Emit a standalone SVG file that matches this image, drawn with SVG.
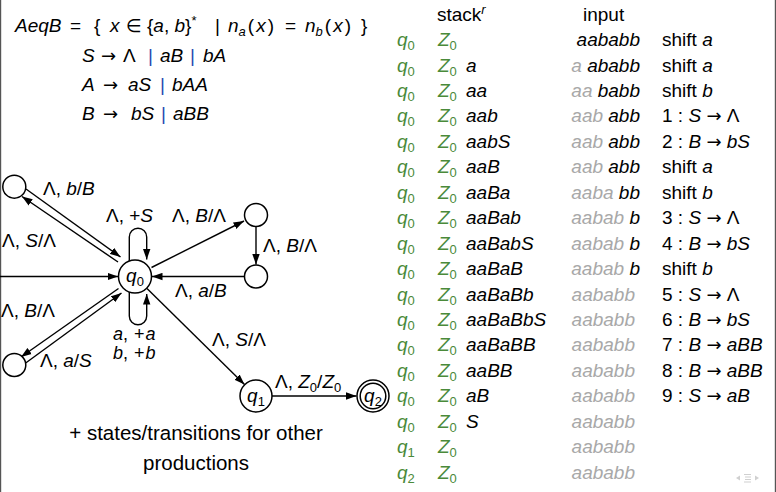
<svg xmlns="http://www.w3.org/2000/svg" width="776" height="492" viewBox="0 0 776 492">
<defs>
<style>
.t{font-family:"Liberation Sans",Arial,sans-serif;font-size:19px;fill:#000}
.i{font-style:italic}
.g{fill:#4a8a3a}
.gr{fill:#a8a8a8}
.bl{fill:#2a4bb0}
.ar{font-family:"DejaVu Sans",sans-serif;font-size:18px;font-style:normal}
.lp{font-size:18px}
.ft{font-size:20.5px}
.edge{stroke:#000;stroke-width:1.4;fill:none}
.node{stroke:#000;stroke-width:1.5;fill:#fff}
</style>
<marker id="ah" markerWidth="11" markerHeight="8" refX="10.5" refY="4" orient="auto" markerUnits="userSpaceOnUse">
<path d="M0,0.3 L10.5,4 L0,7.7 z" fill="#000"/>
</marker>
</defs>
<rect width="776" height="492" fill="#fff"/>
<line x1="0.6" y1="0" x2="0.6" y2="492" stroke="#555" stroke-width="1.2"/>
<line x1="775.4" y1="0" x2="775.4" y2="492" stroke="#555" stroke-width="1.2"/>

<g id="grammar">
<text class="t" y="32"><tspan x="15" class="i">AeqB</tspan><tspan x="70">=</tspan><tspan x="94">{</tspan><tspan x="110" class="i">x</tspan><tspan x="126" class="ar">∈</tspan><tspan x="147">{</tspan><tspan class="i">a</tspan>, <tspan class="i">b</tspan>}<tspan font-size="13" dy="-7">*</tspan><tspan x="215" dy="7">|</tspan><tspan x="228" class="i">n</tspan><tspan class="i" font-size="13" dy="4">a</tspan><tspan dy="-4" dx="2">(</tspan><tspan class="i" dx="2">x</tspan><tspan dx="2">)</tspan><tspan x="285">=</tspan><tspan x="305" class="i">n</tspan><tspan class="i" font-size="13" dy="4">b</tspan><tspan dy="-4" dx="2">(</tspan><tspan class="i" dx="2">x</tspan><tspan dx="2">)</tspan><tspan x="361">}</tspan></text>
<text class="t" y="61.5"><tspan x="82" class="i">S</tspan><tspan x="101" class="ar">→</tspan><tspan x="123">Λ</tspan><tspan x="148" class="bl">|</tspan><tspan x="160" class="i">aB</tspan><tspan x="190" class="bl">|</tspan><tspan x="203" class="i">bA</tspan></text>
<text class="t" y="90.5"><tspan x="82" class="i">A</tspan><tspan x="103" class="ar">→</tspan><tspan x="128" class="i">aS</tspan><tspan x="160" class="bl">|</tspan><tspan x="172" class="i">bAA</tspan></text>
<text class="t" y="119.5"><tspan x="82" class="i">B</tspan><tspan x="103" class="ar">→</tspan><tspan x="131" class="i">bS</tspan><tspan x="161" class="bl">|</tspan><tspan x="173" class="i">aBB</tspan></text>
</g>

<g id="connectors">
<path class="edge" d="M0,276.5 L118,276.5" marker-end="url(#ah)"/>
<path class="edge" d="M26,189 L120.5,257" marker-end="url(#ah)"/>
<path class="edge" d="M118,262 L22,196.5" marker-end="url(#ah)"/>
<path class="edge" d="M118.5,288.5 L21,357" marker-end="url(#ah)"/>
<path class="edge" d="M25,363.5 L121.5,293" marker-end="url(#ah)"/>
<path class="edge" d="M129.3,261 V237 A8.7,8.7 0 0 1 146.7,237 V259.5" marker-end="url(#ah)"/>
<path class="edge" d="M129.3,292 V316 A8.7,8.7 0 0 0 146.7,316 V294" marker-end="url(#ah)"/>
<path class="edge" d="M151.5,267.5 L244,221" marker-end="url(#ah)"/>
<path class="edge" d="M256,226.5 L256,264.5" marker-end="url(#ah)"/>
<path class="edge" d="M244.5,276.5 L152,276.5" marker-end="url(#ah)"/>
<path class="edge" d="M147,288.5 L244.5,384.5" marker-end="url(#ah)"/>
<path class="edge" d="M272,396 L356.5,396" marker-end="url(#ah)"/>
<text class="t" x="43" y="195">Λ, <tspan class="i">b</tspan>/<tspan class="i">B</tspan></text>
<text class="t" x="2" y="247">Λ, <tspan class="i">S</tspan>/Λ</text>
<text class="t" x="106" y="221.5">Λ, +<tspan class="i">S</tspan></text>
<text class="t" x="172" y="222">Λ, <tspan class="i">B</tspan>/Λ</text>
<text class="t" x="263" y="251.5">Λ, <tspan class="i">B</tspan>/Λ</text>
<text class="t" x="175" y="297">Λ, <tspan class="i">a</tspan>/<tspan class="i">B</tspan></text>
<text class="t" x="1" y="317">Λ, <tspan class="i">B</tspan>/Λ</text>
<text class="t" x="40" y="367">Λ, <tspan class="i">a</tspan>/<tspan class="i">S</tspan></text>
<text class="t lp" x="113" y="339.5"><tspan class="i">a</tspan>, <tspan dx="1">+</tspan><tspan class="i" dx="1">a</tspan></text>
<text class="t lp" x="113" y="358.5"><tspan class="i">b</tspan>, <tspan dx="1">+</tspan><tspan class="i" dx="1">b</tspan></text>
<text class="t" x="212" y="346">Λ, <tspan class="i">S</tspan>/Λ</text>
<text class="t" x="275" y="388">Λ, <tspan class="i">Z</tspan><tspan font-size="13" dy="4">0</tspan><tspan dy="-4">/</tspan><tspan class="i">Z</tspan><tspan font-size="13" dy="4">0</tspan></text>
</g>

<g id="q0"><circle class="node" cx="135" cy="276.5" r="16.5"/><text class="t" x="135" y="282" text-anchor="middle"><tspan class="i">q</tspan><tspan font-size="13" dy="4">0</tspan></text></g>
<g id="n_tl"><circle class="node" cx="14.3" cy="186.7" r="11.5"/></g>
<g id="n_bl"><circle class="node" cx="14.3" cy="365" r="11.5"/></g>
<g id="n_tr"><circle class="node" cx="256" cy="215" r="11.5"/></g>
<g id="n_rm"><circle class="node" cx="256" cy="276.5" r="11.5"/></g>
<g id="q1"><circle class="node" cx="256" cy="396" r="16"/><text class="t" x="256" y="401.5" text-anchor="middle"><tspan class="i">q</tspan><tspan font-size="13" dy="4">1</tspan></text></g>
<g id="q2"><circle class="node" cx="373" cy="396" r="16"/><circle class="node" cx="373" cy="396" r="12.8"/><text class="t" x="373" y="401.5" text-anchor="middle"><tspan class="i">q</tspan><tspan font-size="13" dy="4">2</tspan></text></g>

<g id="footer">
<text class="t ft" x="196" y="440" text-anchor="middle">+ states/transitions for other</text>
<text class="t ft" x="196" y="470" text-anchor="middle">productions</text>
</g>

<g id="table">
<text class="t" x="437" y="20.5">stack<tspan class="i" font-size="13" dy="-7">r</tspan></text>
<text class="t" x="583" y="20.5">input</text>

<text class="t g" x="397" y="46"><tspan class="i">q</tspan><tspan font-size="13" dy="4">0</tspan></text>
<text class="t" x="438" y="46"><tspan class="i g">Z</tspan><tspan class="g" font-size="13" dy="4">0</tspan></text>
<text class="t i" x="640" y="46" text-anchor="end">aababb</text>
<text class="t" x="662" y="46">shift <tspan class="i">a</tspan></text>

<text class="t g" x="397" y="71.5"><tspan class="i">q</tspan><tspan font-size="13" dy="4">0</tspan></text>
<text class="t" x="438" y="71.5"><tspan class="i g">Z</tspan><tspan class="g" font-size="13" dy="4">0</tspan><tspan class="i" x="466" dy="-4">a</tspan></text>
<text class="t i" x="640" y="71.5" text-anchor="end"><tspan class="gr">a</tspan> ababb</text>
<text class="t" x="662" y="71.5">shift <tspan class="i">a</tspan></text>

<text class="t g" x="397" y="96.9"><tspan class="i">q</tspan><tspan font-size="13" dy="4">0</tspan></text>
<text class="t" x="438" y="96.9"><tspan class="i g">Z</tspan><tspan class="g" font-size="13" dy="4">0</tspan><tspan class="i" x="466" dy="-4">aa</tspan></text>
<text class="t i" x="640" y="96.9" text-anchor="end"><tspan class="gr">aa</tspan> babb</text>
<text class="t" x="662" y="96.9">shift <tspan class="i">b</tspan></text>

<text class="t g" x="397" y="122.4"><tspan class="i">q</tspan><tspan font-size="13" dy="4">0</tspan></text>
<text class="t" x="438" y="122.4"><tspan class="i g">Z</tspan><tspan class="g" font-size="13" dy="4">0</tspan><tspan class="i" x="466" dy="-4">aab</tspan></text>
<text class="t i" x="640" y="122.4" text-anchor="end"><tspan class="gr">aab</tspan> abb</text>
<text class="t" x="662" y="122.4">1 : <tspan class="i">S</tspan> <tspan class="ar">→</tspan> Λ</text>

<text class="t g" x="397" y="147.8"><tspan class="i">q</tspan><tspan font-size="13" dy="4">0</tspan></text>
<text class="t" x="438" y="147.8"><tspan class="i g">Z</tspan><tspan class="g" font-size="13" dy="4">0</tspan><tspan class="i" x="466" dy="-4">aabS</tspan></text>
<text class="t i" x="640" y="147.8" text-anchor="end"><tspan class="gr">aab</tspan> abb</text>
<text class="t" x="662" y="147.8">2 : <tspan class="i">B</tspan> <tspan class="ar">→</tspan> <tspan class="i">bS</tspan></text>

<text class="t g" x="397" y="173.3"><tspan class="i">q</tspan><tspan font-size="13" dy="4">0</tspan></text>
<text class="t" x="438" y="173.3"><tspan class="i g">Z</tspan><tspan class="g" font-size="13" dy="4">0</tspan><tspan class="i" x="466" dy="-4">aaB</tspan></text>
<text class="t i" x="640" y="173.3" text-anchor="end"><tspan class="gr">aab</tspan> abb</text>
<text class="t" x="662" y="173.3">shift <tspan class="i">a</tspan></text>

<text class="t g" x="397" y="198.7"><tspan class="i">q</tspan><tspan font-size="13" dy="4">0</tspan></text>
<text class="t" x="438" y="198.7"><tspan class="i g">Z</tspan><tspan class="g" font-size="13" dy="4">0</tspan><tspan class="i" x="466" dy="-4">aaBa</tspan></text>
<text class="t i" x="640" y="198.7" text-anchor="end"><tspan class="gr">aaba</tspan> bb</text>
<text class="t" x="662" y="198.7">shift <tspan class="i">b</tspan></text>

<text class="t g" x="397" y="224.2"><tspan class="i">q</tspan><tspan font-size="13" dy="4">0</tspan></text>
<text class="t" x="438" y="224.2"><tspan class="i g">Z</tspan><tspan class="g" font-size="13" dy="4">0</tspan><tspan class="i" x="466" dy="-4">aaBab</tspan></text>
<text class="t i" x="640" y="224.2" text-anchor="end"><tspan class="gr">aabab</tspan> b</text>
<text class="t" x="662" y="224.2">3 : <tspan class="i">S</tspan> <tspan class="ar">→</tspan> Λ</text>

<text class="t g" x="397" y="249.6"><tspan class="i">q</tspan><tspan font-size="13" dy="4">0</tspan></text>
<text class="t" x="438" y="249.6"><tspan class="i g">Z</tspan><tspan class="g" font-size="13" dy="4">0</tspan><tspan class="i" x="466" dy="-4">aaBabS</tspan></text>
<text class="t i" x="640" y="249.6" text-anchor="end"><tspan class="gr">aabab</tspan> b</text>
<text class="t" x="662" y="249.6">4 : <tspan class="i">B</tspan> <tspan class="ar">→</tspan> <tspan class="i">bS</tspan></text>

<text class="t g" x="397" y="275.1"><tspan class="i">q</tspan><tspan font-size="13" dy="4">0</tspan></text>
<text class="t" x="438" y="275.1"><tspan class="i g">Z</tspan><tspan class="g" font-size="13" dy="4">0</tspan><tspan class="i" x="466" dy="-4">aaBaB</tspan></text>
<text class="t i" x="640" y="275.1" text-anchor="end"><tspan class="gr">aabab</tspan> b</text>
<text class="t" x="662" y="275.1">shift <tspan class="i">b</tspan></text>

<text class="t g" x="397" y="300.5"><tspan class="i">q</tspan><tspan font-size="13" dy="4">0</tspan></text>
<text class="t" x="438" y="300.5"><tspan class="i g">Z</tspan><tspan class="g" font-size="13" dy="4">0</tspan><tspan class="i" x="466" dy="-4">aaBaBb</tspan></text>
<text class="t i gr" x="635" y="300.5" text-anchor="end">aababb</text>
<text class="t" x="662" y="300.5">5 : <tspan class="i">S</tspan> <tspan class="ar">→</tspan> Λ</text>

<text class="t g" x="397" y="326"><tspan class="i">q</tspan><tspan font-size="13" dy="4">0</tspan></text>
<text class="t" x="438" y="326"><tspan class="i g">Z</tspan><tspan class="g" font-size="13" dy="4">0</tspan><tspan class="i" x="466" dy="-4">aaBaBbS</tspan></text>
<text class="t i gr" x="635" y="326" text-anchor="end">aababb</text>
<text class="t" x="662" y="326">6 : <tspan class="i">B</tspan> <tspan class="ar">→</tspan> <tspan class="i">bS</tspan></text>

<text class="t g" x="397" y="351.4"><tspan class="i">q</tspan><tspan font-size="13" dy="4">0</tspan></text>
<text class="t" x="438" y="351.4"><tspan class="i g">Z</tspan><tspan class="g" font-size="13" dy="4">0</tspan><tspan class="i" x="466" dy="-4">aaBaBB</tspan></text>
<text class="t i gr" x="635" y="351.4" text-anchor="end">aababb</text>
<text class="t" x="662" y="351.4">7 : <tspan class="i">B</tspan> <tspan class="ar">→</tspan> <tspan class="i">aBB</tspan></text>

<text class="t g" x="397" y="376.9"><tspan class="i">q</tspan><tspan font-size="13" dy="4">0</tspan></text>
<text class="t" x="438" y="376.9"><tspan class="i g">Z</tspan><tspan class="g" font-size="13" dy="4">0</tspan><tspan class="i" x="466" dy="-4">aaBB</tspan></text>
<text class="t i gr" x="635" y="376.9" text-anchor="end">aababb</text>
<text class="t" x="662" y="376.9">8 : <tspan class="i">B</tspan> <tspan class="ar">→</tspan> <tspan class="i">aBB</tspan></text>

<text class="t g" x="397" y="402.3"><tspan class="i">q</tspan><tspan font-size="13" dy="4">0</tspan></text>
<text class="t" x="438" y="402.3"><tspan class="i g">Z</tspan><tspan class="g" font-size="13" dy="4">0</tspan><tspan class="i" x="466" dy="-4">aB</tspan></text>
<text class="t i gr" x="635" y="402.3" text-anchor="end">aababb</text>
<text class="t" x="662" y="402.3">9 : <tspan class="i">S</tspan> <tspan class="ar">→</tspan> <tspan class="i">aB</tspan></text>

<text class="t g" x="397" y="427.8"><tspan class="i">q</tspan><tspan font-size="13" dy="4">0</tspan></text>
<text class="t" x="438" y="427.8"><tspan class="i g">Z</tspan><tspan class="g" font-size="13" dy="4">0</tspan><tspan class="i" x="466" dy="-4">S</tspan></text>
<text class="t i gr" x="635" y="427.8" text-anchor="end">aababb</text>

<text class="t g" x="397" y="453.2"><tspan class="i">q</tspan><tspan font-size="13" dy="4">1</tspan></text>
<text class="t" x="438" y="453.2"><tspan class="i g">Z</tspan><tspan class="g" font-size="13" dy="4">0</tspan></text>
<text class="t i gr" x="635" y="453.2" text-anchor="end">aababb</text>

<text class="t g" x="397" y="478.7"><tspan class="i">q</tspan><tspan font-size="13" dy="4">2</tspan></text>
<text class="t" x="438" y="478.7"><tspan class="i g">Z</tspan><tspan class="g" font-size="13" dy="4">0</tspan></text>
<text class="t i gr" x="635" y="478.7" text-anchor="end">aababb</text>
</g>

<g id="nav" fill="#d0d0d0" stroke="none">
<path d="M736,478 L740,475.5 L740,480.5 z"/>
<rect x="744" y="474" width="7" height="1"/>
<rect x="745" y="476.5" width="6" height="1"/>
<rect x="745" y="479" width="6" height="1"/>
<rect x="744" y="481.5" width="7" height="1"/>
<path d="M759,478 L755,475.5 L755,480.5 z"/>
</g>
</svg>
